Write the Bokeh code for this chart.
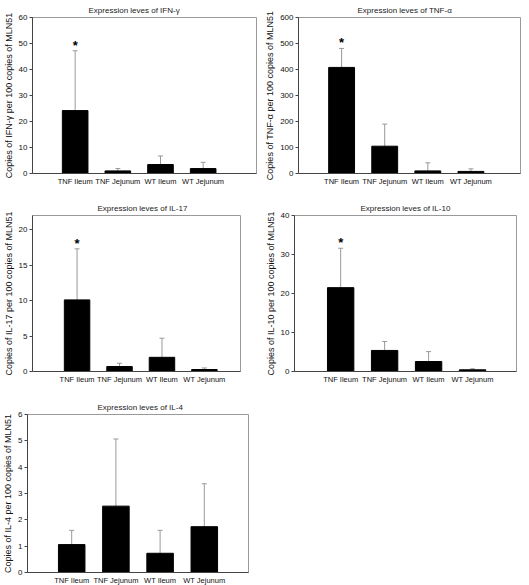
from bokeh.plotting import figure
from bokeh.models import Range1d, FixedTicker, Whisker, TeeHead, ColumnDataSource
from bokeh.layouts import column, row
from bokeh.embed import file_html
from bokeh.resources import INLINE
from bokeh.core.properties import value

FONT = "Liberation Sans"

categories = ["TNF Ileum", "TNF Jejunum", "WT Ileum", "WT Jejunum"]

ifng_mean = [24.2, 1.0, 3.45, 1.9]
ifng_sd = [23.0, 0.9, 3.3, 2.4]
ifng_stars = ["*", "", "", ""]
ifng_ticks = [0, 10, 20, 30, 40, 50, 60]

tnfa_mean = [408, 105, 10, 8]
tnfa_sd = [73, 85, 31, 10]
tnfa_stars = ["*", "", "", ""]
tnfa_ticks = [0, 100, 200, 300, 400, 500, 600]

il17_mean = [10.1, 0.7, 2.0, 0.28]
il17_sd = [7.2, 0.47, 2.7, 0.22]
il17_stars = ["*", "", "", ""]
il17_ticks = [0, 5, 10, 15, 20]

il10_mean = [21.5, 5.4, 2.56, 0.43]
il10_sd = [10.1, 2.3, 2.54, 0.27]
il10_stars = ["*", "", "", ""]
il10_ticks = [0, 10, 20, 30, 40]

il4_mean = [1.06, 2.52, 0.73, 1.74]
il4_sd = [0.54, 2.55, 0.87, 1.63]
il4_stars = ["", "", "", ""]
il4_ticks = [0, 1, 2, 3, 4, 5, 6]


def panel(gene, means, sds, stars, yticks, ymax, xr, width, height,
          bl, br, bt, bb, toff):
    xs = list(range(1, len(categories) + 1))
    upper = [m + s for m, s in zip(means, sds)]
    src = ColumnDataSource(dict(x=xs, mean=means, upper=upper, star=stars))
    p = figure(width=width, height=height, output_backend="svg",
               toolbar_location=None, x_range=Range1d(*xr),
               y_range=Range1d(0, ymax), min_border=0,
               min_border_left=bl, min_border_right=br,
               min_border_top=bt, min_border_bottom=bb,
               title="Expression leves of " + gene)
    p.title.text_font = FONT
    p.title.text_font_size = "8px"
    p.title.text_font_style = "normal"
    p.title.text_color = "#222222"
    p.title.align = "left"
    p.title.offset = toff
    p.title.standoff = 5

    p.vbar(x="x", top="mean", width=0.6, source=src,
           fill_color="black", line_color="black")
    w = Whisker(source=src, base="x", lower="mean", upper="upper",
                line_color="#999999", line_width=1,
                upper_head=TeeHead(size=5, line_color="#999999", line_width=1),
                lower_head=None)
    p.add_layout(w)
    p.text(x="x", y="upper", text="star", source=src, text_align="center",
           text_baseline="bottom", text_font=value(FONT),
           text_font_size="13px", text_font_style="bold", y_offset=2,
           text_color="black")

    p.xgrid.visible = False
    p.ygrid.visible = False
    p.outline_line_color = "#999999"
    p.background_fill_color = "white"
    p.border_fill_color = "white"

    p.xaxis.ticker = FixedTicker(ticks=xs)
    p.xaxis.major_label_overrides = {x: c for x, c in zip(xs, categories)}
    p.xaxis.major_tick_out = 0
    p.xaxis.major_tick_in = 0
    p.xaxis.minor_tick_line_color = None
    p.xaxis.major_label_standoff = 3
    p.xaxis.major_label_text_font = FONT
    p.xaxis.major_label_text_font_size = "7.5px"
    p.xaxis.major_label_text_color = "#111111"
    p.xaxis.axis_line_color = "#444444"

    p.yaxis.ticker = FixedTicker(ticks=yticks)
    p.yaxis.minor_tick_line_color = None
    p.yaxis.major_tick_in = 0
    p.yaxis.major_tick_out = 3
    p.yaxis.major_tick_line_color = "#444444"
    p.yaxis.axis_line_color = "#444444"
    p.yaxis.major_label_standoff = 2
    p.yaxis.major_label_text_font = FONT
    p.yaxis.major_label_text_font_size = "8px"
    p.yaxis.major_label_text_color = "#111111"
    p.yaxis.axis_label = "Copies of " + gene + " per 100 copies of MLN51"
    p.yaxis.axis_label_text_font = FONT
    p.yaxis.axis_label_text_font_size = "9px"
    p.yaxis.axis_label_text_font_style = "normal"
    p.yaxis.axis_label_text_color = "#111111"
    p.yaxis.axis_label_standoff = 2
    return p


p1 = panel("IFN-γ", ifng_mean, ifng_sd, ifng_stars, ifng_ticks, 60,
           (0, 5.25), 262, 198, 27, 6, 17, 25, 56)
p2 = panel("TNF-α", tnfa_mean, tnfa_sd, tnfa_stars, tnfa_ticks, 600,
           (0, 5.15), 259, 198, 36, 1, 17, 25, 59)
p3 = panel("IL-17", il17_mean, il17_sd, il17_stars, il17_ticks, 22,
           (-0.05, 4.85), 262, 199, 27, 22, 17, 26, 65)
p4 = panel("IL-10", il10_mean, il10_sd, il10_stars, il10_ticks, 40,
           (-0.05, 5.0), 259, 199, 30, 5, 17, 26, 66)
p5 = panel("IL-4", il4_mean, il4_sd, il4_stars, il4_ticks, 6,
           (0, 5.0), 262, 190, 27, 14, 17, 14, 70)

layout = column(row(p1, p2), row(p3, p4), row(p5))
open("out.html", "w").write(file_html(layout, INLINE))
